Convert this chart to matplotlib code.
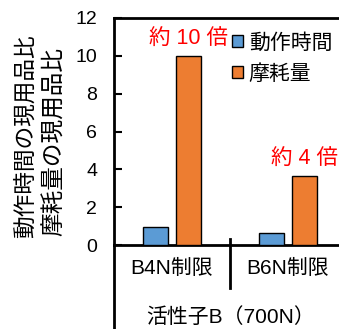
import numpy as np
import matplotlib.pyplot as plt
from matplotlib.patches import Patch

plt.rcParams['font.family'] = ['Liberation Sans', 'Noto Sans CJK JP', 'DejaVu Sans']

categories = ['B4N制限', 'B6N制限']
group_label = '活性子B（700N）'
series_names = ['動作時間', '摩耗量']
op_time = [0.95, 0.65]
wear = [10.0, 3.67]
notes = ['約 10 倍', '約 4 倍']
yticks = [0, 2, 4, 6, 8, 10, 12]

blue = '#5B9BD5'
orange = '#ED7D31'

fig = plt.figure(figsize=(3.39, 3.29), dpi=100)
ax = fig.add_axes([0.336, 0.2553, 0.684, 0.690])

x = np.arange(len(categories))
w = 0.216
ax.bar(x - 0.142, op_time, w, color=blue, edgecolor='black', linewidth=1, zorder=3)
ax.bar(x + 0.142, wear, w, color=orange, edgecolor='black', linewidth=1, zorder=3)

for xi, v, t in zip(x, wear, notes):
    ax.annotate(t, (xi + 0.142, v), xytext=(0, 4), textcoords='offset points',
                ha='center', va='bottom', color='red', fontsize=15.5)

ax.set_xlim(-0.5, 1.5)
ax.set_ylim(0, 12)
ax.set_yticks(yticks)
ax.tick_params(axis='y', direction='in', length=6, width=1.5, labelsize=14, pad=12)
ax.set_xticks(x)
ax.set_xticklabels(categories, fontsize=15)
ax.tick_params(axis='x', length=0, pad=10)
for s in ['left', 'bottom', 'top']:
    ax.spines[s].set_linewidth(2)
ax.spines['right'].set_visible(False)

# category separator and extended left line
ax.plot([0.5, 0.5], [0.026, -0.19], color='black', lw=2, transform=ax.get_xaxis_transform(), clip_on=False)
ax.plot([-0.5, -0.5], [0, -0.4], color='black', lw=2, transform=ax.get_xaxis_transform(), clip_on=False)
fig.text(231 / 339, 1 - 317 / 329, group_label, ha='center', va='center', fontsize=15)

# y labels
fig.text(25 / 339, 1 - 238 / 329, '動作時間の現用品比', rotation=90, ha='center', va='bottom', fontsize=16.3)
fig.text(55 / 339, 1 - 236 / 329, '摩耗量の現用品比', rotation=90, ha='center', va='bottom', fontsize=17)

handles = [Patch(facecolor=blue, edgecolor='black'), Patch(facecolor=orange, edgecolor='black')]
ax.legend(handles, series_names, loc='upper left', bbox_to_anchor=(0.51, 0.935), frameon=False,
          fontsize=15, handlelength=0.5, handleheight=0.5, handletextpad=0.3, labelspacing=0.55,
          borderpad=0, borderaxespad=0)

fig.savefig('out.png', dpi=100)
